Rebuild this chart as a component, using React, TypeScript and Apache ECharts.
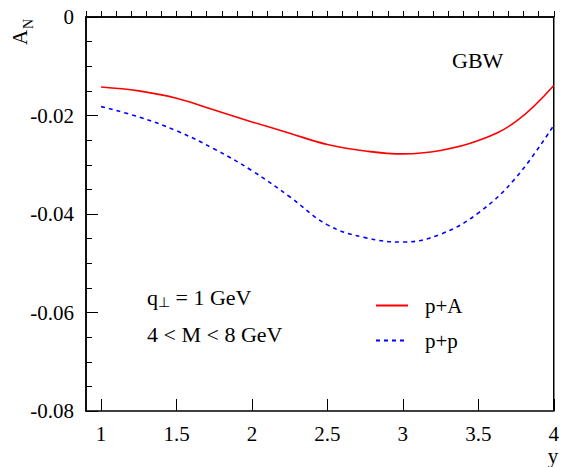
import React, { useEffect, useRef } from "react";
import * as echarts from "echarts";

// rapidity y
const yValues = [1.0, 1.25, 1.5, 1.75, 2.0, 2.25, 2.5, 2.75, 3.0, 3.25, 3.5, 3.75, 4.0];
// A_N for p+A (solid red)
const anPA = [-0.0142, -0.0150, -0.0165, -0.0189, -0.0213, -0.0236, -0.0259, -0.0272, -0.0278, -0.0271, -0.0251, -0.0212, -0.0139];
// A_N for p+p (dashed blue)
const anPP = [-0.0182, -0.0203, -0.0231, -0.0268, -0.0312, -0.0365, -0.0422, -0.0448, -0.0457, -0.0441, -0.0398, -0.0326, -0.0220];

const xMajorTicks = [1, 1.5, 2, 2.5, 3, 3.5, 4];

const FONT = "Liberation Serif, Times New Roman, Times, serif";

export default function App() {
  const ref = useRef<HTMLDivElement>(null);

  useEffect(() => {
    if (!ref.current) return;
    const chart = echarts.init(ref.current, null, { renderer: "svg" });
    const axisLine = { show: true, lineStyle: { color: "#000", width: 1.5 } };

    chart.setOption({
      animation: false,
      backgroundColor: "#fff",
      grid: {
        left: 86,
        right: 5,
        top: 17,
        bottom: 56,
        show: true,
        borderColor: "#000",
        borderWidth: 1.5,
        backgroundColor: "transparent",
      },
      xAxis: [
        {
          type: "value",
          min: 0.9,
          max: 4,
          interval: 0.1,
          axisLine,
          axisTick: { inside: true, length: 6, lineStyle: { color: "#000", width: 1 } },
          axisLabel: { show: false },
          splitLine: { show: false },
        },
        {
          type: "value",
          min: 0.9,
          max: 4,
          position: "bottom",
          axisLine: { show: false },
          axisTick: {
            inside: true,
            length: 12,
            customValues: xMajorTicks,
            lineStyle: { color: "#000", width: 1 },
          },
          axisLabel: {
            customValues: xMajorTicks,
            margin: 12,
            color: "#000",
            fontFamily: FONT,
            fontSize: 21,
          },
          splitLine: { show: false },
        },
      ],
      yAxis: {
        type: "value",
        min: -0.08,
        max: 0,
        interval: 0.02,
        axisLine,
        axisTick: { inside: true, length: 12, lineStyle: { color: "#000", width: 1 } },
        minorTick: { show: true, splitNumber: 4, length: 6, lineStyle: { color: "#000", width: 1 } },
        axisLabel: { margin: 12, color: "#000", fontFamily: FONT, fontSize: 21 },
        splitLine: { show: false },
      },
      legend: {
        orient: "vertical",
        left: 375,
        top: 295,
        itemWidth: 32,
        itemHeight: 14,
        itemGap: 14,
        padding: 0,
        itemStyle: { opacity: 0 },
        textStyle: { color: "#000", fontFamily: FONT, fontSize: 21, padding: [0, 0, 0, 12] },
        data: ["p+A", "p+p"],
      },
      series: [
        {
          name: "p+A",
          type: "line",
          xAxisIndex: 0,
          smooth: 0.4,
          symbol: "none",
          lineStyle: { color: "#ff0000", width: 1.6 },
          itemStyle: { color: "#ff0000" },
          data: yValues.map((x, i) => [x, anPA[i]]),
        },
        {
          name: "p+p",
          type: "line",
          xAxisIndex: 0,
          smooth: 0.4,
          symbol: "none",
          lineStyle: { color: "#0000ff", width: 1.6, type: [4, 4] },
          itemStyle: { color: "#0000ff" },
          data: yValues.map((x, i) => [x, anPP[i]]),
        },
      ],
      graphic: [
        {
          type: "text",
          x: 30,
          y: 45,
          rotation: Math.PI / 2,
          style: { text: "A", font: `21px ${FONT}`, fill: "#000", align: "left", verticalAlign: "bottom" },
        },
        {
          type: "text",
          x: 35,
          y: 29,
          rotation: Math.PI / 2,
          style: { text: "N", font: `14px ${FONT}`, fill: "#000", align: "left", verticalAlign: "bottom" },
        },
        {
          type: "text",
          x: 553,
          y: 456,
          style: { text: "y", font: `21px ${FONT}`, fill: "#000", align: "center", verticalAlign: "middle" },
        },
        {
          type: "text",
          x: 452,
          y: 60,
          style: { text: "GBW", font: `22px ${FONT}`, fill: "#000", align: "left", verticalAlign: "middle" },
        },
        {
          type: "text",
          x: 147,
          y: 297,
          style: {
            text: "{q|q}{s|⊥}{t| = 1 GeV}",
            fill: "#000",
            align: "left",
            verticalAlign: "middle",
            rich: {
              q: { font: `22px ${FONT}`, fill: "#000" },
              s: { font: `14px ${FONT}`, fill: "#000", padding: [10, 0, 0, 0] },
              t: { font: `22px ${FONT}`, fill: "#000" },
            },
          },
        },
        {
          type: "text",
          x: 147,
          y: 334,
          style: { text: "4 < M < 8 GeV", font: `22px ${FONT}`, fill: "#000", align: "left", verticalAlign: "middle" },
        },
      ],
    });

    return () => chart.dispose();
  }, []);

  return (
    <div
      ref={ref}
      style={{ position: "absolute", left: 0, top: 0, width: 562, height: 467 }}
    />
  );
}
